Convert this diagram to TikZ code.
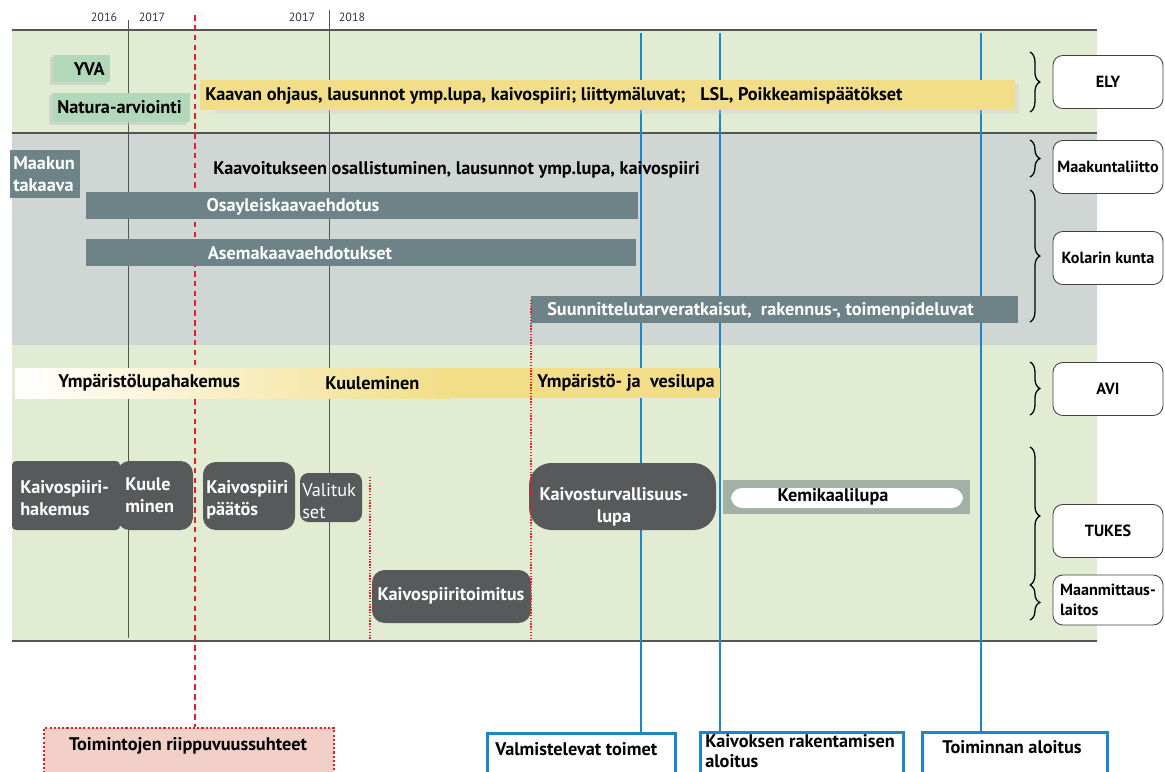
\documentclass[tikz,border=0pt]{standalone}
\usepackage{fontspec}
\setmainfont{PT Sans}
\usetikzlibrary{decorations.pathreplacing,calc,positioning}
\definecolor{bandgreen}{RGB}{225,236,210}
\definecolor{bandgray}{RGB}{207,214,212}
\definecolor{slate}{RGB}{109,131,135}
\definecolor{darkbox}{RGB}{88,89,91}
\definecolor{sand}{RGB}{242,222,136}
\definecolor{mint}{RGB}{178,216,186}
\definecolor{mileblue}{RGB}{28,134,198}
\definecolor{rose}{RGB}{242,208,200}
\definecolor{kemgray}{RGB}{163,176,166}
\definecolor{gridgray}{RGB}{85,85,85}
\definecolor{depred}{RGB}{230,30,40}
\tikzset{
  lbl/.style={font=\bfseries\fontsize{13}{16}\selectfont, inner sep=0pt, align=left},
  wlbl/.style={lbl, text=white},
  orglbl/.style={font=\bfseries\fontsize{11.5}{14}\selectfont, inner sep=0pt, align=left},
  orgbox/.style={draw=black!75, fill=white, rounded corners=7pt, line width=0.6pt},
  dbox/.style={fill=darkbox, rounded corners=9pt},
  brc/.style={decorate, decoration={brace, amplitude=7pt}, line width=0.9pt},
  milestone/.style={draw=mileblue, line width=2pt, fill=white, inner sep=0pt},
  mileline/.style={mileblue, line width=2pt},
  depline/.style={depred, line width=1.3pt, dash pattern=on 4pt off 3pt},
  dotline/.style={depred, line width=1pt, dash pattern=on 1pt off 1pt},
}

\begin{document}
\begin{tikzpicture}[x=0.025cm, y=-0.025cm]
  \useasboundingbox (0,0) rectangle (1165,771);
  \clip (0,0) rectangle (1165,771);
  % bands
  \fill[bandgreen] (12,30) rectangle (1097,133);
  \fill[bandgray] (12,133) rectangle (1097,345);
  \fill[bandgreen] (12,345) rectangle (1097,640);
  \draw[gridgray, line width=1.6pt] (12,30) -- (1097,30);
  \draw[gridgray, line width=1pt] (12,133) -- (1097,133);
  \draw[gridgray, line width=1pt] (12,641) -- (1097,641);
  % years
  \draw[gridgray, line width=0.6pt] (128,20) -- (128,638);
  \draw[gridgray, line width=0.6pt] (329,10) -- (329,642);
  \foreach \x/\yr/\name in {104/2016/ya, 152/2017/yb, 302/2017/yc, 352/2018/yd}
    \node[font=\fontsize{8.5}{10}\selectfont, text=black!80] (\name) at (\x,17) {\yr};

  % milestones (lines run behind the bars)
  \foreach \x/\name in {641/ma, 720/mb, 981/mc}
    \coordinate (\name) at (\x,33);
  \node[milestone, anchor=north west, minimum width=4.7cm, minimum height=1.4cm] (valm) at (486,732) {};
  \node[lbl, anchor=west] (valmtxt) at (495,749) {Valmistelevat toimet};
  \node[milestone, anchor=north west, minimum width=5.075cm, minimum height=1.4cm] (rak) at (699,731) {};
  \node[lbl, font=\bfseries\fontsize{13}{14}\selectfont, anchor=west] (raktxt) at (705,751) {Kaivoksen rakentamisen\\aloitus};
  \node[milestone, anchor=north west, minimum width=4.625cm, minimum height=1.4cm] (toim) at (921,731) {};
  \node[lbl] (toimtxt) at (1012,747) {Toiminnan aloitus};
  \draw[mileline] (ma) -- (ma |- valm.north);
  \draw[mileline] (mb) -- (mb |- rak.north);
  \draw[mileline] (mc) -- (mc |- toim.north);

  % dependency line
  \coordinate (deptop) at (195,15);
  \node[fill=rose, draw=depred, line width=1.5pt, dash pattern=on 1.5pt off 1.5pt, anchor=north west,
        minimum width=7.25cm, minimum height=1.4cm] (dep) at (43,727) {};
  \node[lbl] (deptxt) at (188,746) {Toimintojen riippuvuussuhteet};
  \draw[depline] (deptop) -- (deptop |- dep.north);

  % ELY row
  \fill[black!25, opacity=0.5] (50,57) rectangle (107,85);
  \fill[mint] (53,55) rectangle (110,82);
  \node[lbl, anchor=east] (yva) at (105,69) {YVA};
  \fill[black!25, opacity=0.5] (49,95) rectangle (187,125);
  \fill[mint] (52,93) rectangle (190,122);
  \node[lbl, anchor=west] (natura) at (57,107) {Natura-arviointi};
  \fill[black!20, opacity=0.35] (215,84) rectangle (1019,114);
  \fill[sand] (200,80) rectangle (1015,110);
  \node[lbl, anchor=west] (ohjaus) at (205,96) {Kaavan ohjaus, lausunnot ymp.lupa, kaivospiiri; liittymäluvat;};
  \node[lbl, anchor=west] (lsl) at (700,96) {LSL, Poikkeamispäätökset};

  % Maakuntaliitto / Kolarin kunta
  \fill[slate] (10,150) rectangle (80,198);
  \node[wlbl, anchor=west] (maak) at (13,174) {Maakun\\takaava};
  \node[lbl, anchor=west] (kaavoit) at (213,170) {Kaavoitukseen osallistuminen, lausunnot ymp.lupa, kaivospiiri};
  \fill[slate] (86,192) rectangle (638,219);
  \node[wlbl] (osay) at (293,207) {Osayleiskaavaehdotus};
  \fill[slate] (86,239) rectangle (636,266);
  \node[wlbl] (asema) at (300,253) {Asemakaavaehdotukset};
  \fill[slate] (531,296) rectangle (1018,323);
  \node[wlbl, anchor=west] (suunn) at (547,311) {Suunnittelutarveratkaisut,\ \ rakennus-, toimenpideluvat};

  % AVI
  \shade[left color=white, right color=sand] (15,368) rectangle (450,398);
  \fill[sand] (450,368) rectangle (720,398);
  \node[lbl, anchor=west] (ymphak) at (58,383) {Ympäristölupahakemus};
  \node[lbl, anchor=west] (kuul) at (325,383) {Kuuleminen};
  \node[lbl, anchor=west] (ymplupa) at (537,383) {Ympäristö- ja\ \ vesilupa};

  % TUKES / Maanmittauslaitos
  \fill[darkbox, rounded corners=3pt] (12,461) rectangle (120,530);
  \node[wlbl, anchor=west] (khak) at (20,498) {Kaivospiiri-\\hakemus};
  \fill[dbox] (117,461) rectangle (193,530);
  \node[wlbl, anchor=west] (kuule) at (125,495) {Kuule\\minen};
  \fill[dbox] (203,462) rectangle (295,530);
  \node[wlbl, anchor=west] (kpaat) at (206,500) {Kaivospiiri\\päätös};
  \fill[darkbox, rounded corners=6pt] (300,473) rectangle (362,522);
  \node[font=\fontsize{13}{16}\selectfont, text=white, inner sep=0pt, align=left, anchor=west] (valit) at (302,501) {Valituk\\set};
  \fill[dbox] (372,570) rectangle (531,623);
  \node[wlbl] (ktoim) at (451,596) {Kaivospiiritoimitus};
  \fill[darkbox, rounded corners=16pt] (529,463) rectangle (716,530);
  \node[wlbl, align=center] (kturv) at (614,507) {Kaivosturvallisuus-\\lupa};
  \fill[kemgray] (723,480) rectangle (970,514);
  \fill[white, rounded corners=8pt] (731,488) rectangle (963,508);
  \node[lbl] (kemi) at (833,497) {Kemikaalilupa};

  % dotted dependencies
  \draw[dotline] (370,477) -- (370,640);
  \draw[dotline] (531,300) -- (531,640);

  % authorities
  \draw[brc] (1030,52) -- (1030,112);
  \node[orgbox, orglbl, minimum width=2.75cm, minimum height=1.325cm] (ely) at (1108,82) {ELY};
  \draw[brc] (1030,140) -- (1030,177);
  \node[orgbox, orglbl, minimum width=2.75cm, minimum height=1.325cm] (maakl) at (1108,167) {Maakuntaliitto};
  \draw[brc] (1030,190) -- (1030,322);
  \node[orgbox, orglbl, minimum width=2.75cm, minimum height=1.325cm] (kolari) at (1108,258) {Kolarin kunta};
  \draw[brc] (1030,362) -- (1030,415);
  \node[orgbox, orglbl, minimum width=2.75cm, minimum height=1.325cm] (avi) at (1108,389) {AVI};
  \draw[brc] (1030,447) -- (1030,585);
  \node[orgbox, orglbl, minimum width=2.75cm, minimum height=1.325cm] (tukes) at (1108,531) {TUKES};
  \draw[brc] (1030,585) -- (1030,620);
  \node[orgbox, orglbl, minimum width=2.75cm, minimum height=1.25cm] (mml) at (1108,600) {Maanmittaus-\\laitos};
\end{tikzpicture}
\end{document}
